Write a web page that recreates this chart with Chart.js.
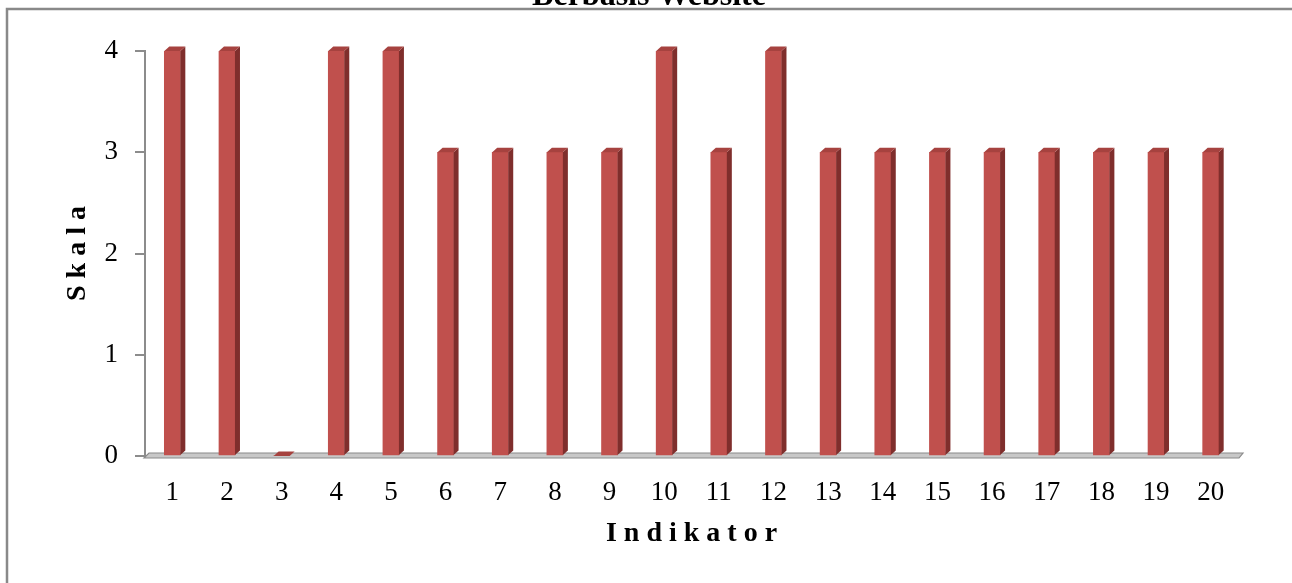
<!DOCTYPE html>
<html lang="id">
<head>
<meta charset="utf-8">
<title>Berbasis Website</title>
<script src="https://cdn.jsdelivr.net/npm/chart.js"></script>
<style>
    html, body { margin: 0; padding: 0; background: #fff; }
    canvas { display: block; }
</style>
</head>
<body>
<canvas id="chart" width="1292" height="583"></canvas>
<script>
    // data
    const chartTitle = 'Berbasis Website';
    const indikator = ['1', '2', '3', '4', '5', '6', '7', '8', '9', '10',
        '11', '12', '13', '14', '15', '16', '17', '18', '19', '20'];
    const skala = [4, 4, 0, 4, 4, 3, 3, 3, 3, 4, 3, 4, 3, 3, 3, 3, 3, 3, 3, 3];
    const skalaTicks = [0, 1, 2, 3, 4];

    const FONT = '"Liberation Serif", "Times New Roman", serif';
    Chart.defaults.font.family = FONT;
    Chart.defaults.color = '#000';

    // excel-like 3D look: floor under the bars, top and side faces on each bar
    const bars3d = {
        id: 'bars3d',
        beforeDatasetsDraw(chart) {
            const ctx = chart.ctx;
            const area = chart.chartArea;
            const y0 = chart.scales.y.getPixelForValue(0);
            ctx.save();
            ctx.beginPath();
            ctx.moveTo(area.left - 1, y0 + 2);
            ctx.lineTo(area.left + 4, y0 - 3);
            ctx.lineTo(area.right + 5, y0 - 3);
            ctx.lineTo(area.right + 1, y0 + 2);
            ctx.closePath();
            ctx.fillStyle = '#c8c8c8';
            ctx.fill();
            ctx.strokeStyle = '#8a8a8a';
            ctx.lineWidth = 1.2;
            ctx.stroke();
            ctx.restore();
        },
        afterDatasetsDraw(chart) {
            const ctx = chart.ctx;
            const dx = 5, dy = 4.5;
            const meta = chart.getDatasetMeta(0);
            ctx.save();
            meta.data.forEach(bar => {
                const p = bar.getProps(['x', 'y', 'base', 'width'], true);
                const l = p.x - p.width / 2;
                const r = p.x + p.width / 2;
                // side
                ctx.beginPath();
                ctx.moveTo(r, p.y);
                ctx.lineTo(r + dx, p.y - dy);
                ctx.lineTo(r + dx, p.base - dy);
                ctx.lineTo(r, p.base);
                ctx.closePath();
                ctx.fillStyle = '#7f2e2c';
                ctx.fill();
                // top
                ctx.beginPath();
                ctx.moveTo(l, p.y);
                ctx.lineTo(l + dx, p.y - dy);
                ctx.lineTo(r + dx, p.y - dy);
                ctx.lineTo(r, p.y);
                ctx.closePath();
                ctx.fillStyle = '#a6423f';
                ctx.fill();
            });
            ctx.restore();
        }
    };

    // frame round the chart and the (cut off) title line
    const frame = {
        id: 'frame',
        afterDraw(chart) {
            const ctx = chart.ctx;
            ctx.save();
            ctx.strokeStyle = '#898989';
            ctx.lineWidth = 2.5;
            ctx.beginPath();
            ctx.moveTo(7, chart.height + 2);
            ctx.lineTo(7, 9);
            ctx.lineTo(chart.width + 2, 9);
            ctx.stroke();
            ctx.fillStyle = '#000';
            ctx.font = 'bold 32px ' + FONT;
            ctx.textAlign = 'center';
            ctx.textBaseline = 'alphabetic';
            ctx.fillText(chartTitle, chart.width / 2 + 3, 5);
            ctx.restore();
        }
    };

    const ctx = document.getElementById('chart').getContext('2d');
    new Chart(ctx, {
        type: 'bar',
        data: {
            labels: indikator,
            datasets: [{
                label: 'Skala',
                data: skala,
                backgroundColor: '#c0504d',
                borderWidth: 0,
                barThickness: 16
            }]
        },
        options: {
            responsive: false,
            animation: false,
            layout: {
                padding: {top: 51, right: 54, left: 0, bottom: 0}
            },
            plugins: {
                legend: {display: false},
                tooltip: {enabled: false},
                title: {display: false}
            },
            scales: {
                x: {
                    afterFit(s) { s.height = 127; },
                    grid: {display: false, drawTicks: false},
                    border: {display: false},
                    ticks: {
                        padding: 21,
                        maxRotation: 0,
                        autoSkip: false,
                        font: {size: 27}
                    },
                    title: {
                        display: true,
                        text: 'I n d i k a t o r',
                        font: {size: 28, weight: 'bold'},
                        padding: {top: 0, bottom: 32}
                    }
                },
                y: {
                    min: 0,
                    max: 4,
                    afterFit(s) { s.width = 145; },
                    afterBuildTicks(s) { s.ticks = skalaTicks.map(v => ({value: v})); },
                    grid: {
                        drawOnChartArea: false,
                        drawTicks: true,
                        tickLength: 10,
                        color: '#8c8c8c',
                        lineWidth: 2
                    },
                    border: {display: true, color: '#8c8c8c', width: 2},
                    ticks: {
                        padding: 17,
                        font: {size: 27}
                    },
                    title: {
                        display: true,
                        text: 'S k a l a',
                        font: {size: 28, weight: 'bold'},
                        padding: {top: 61, bottom: 0}
                    }
                }
            }
        },
        plugins: [bars3d, frame]
    });
</script>
</body>
</html>
